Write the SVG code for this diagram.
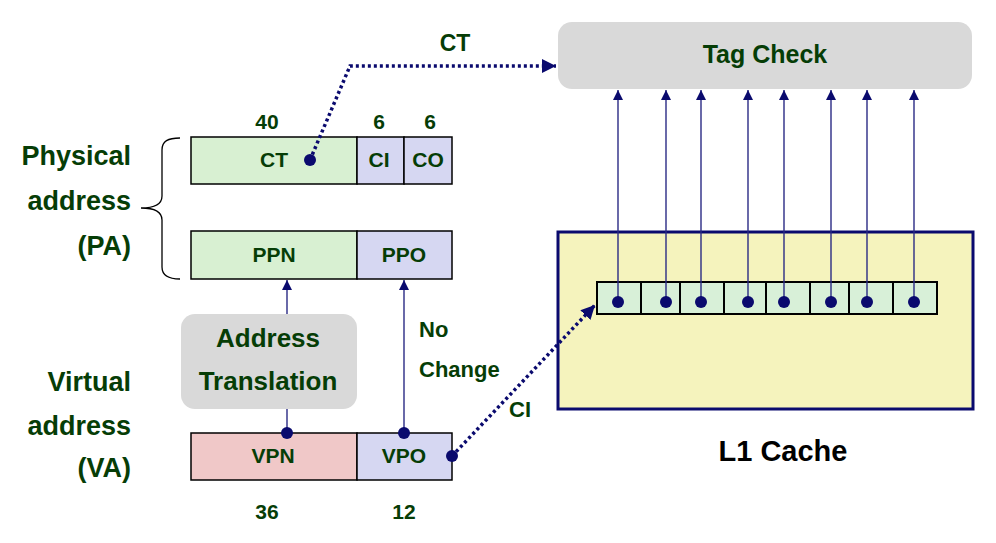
<svg xmlns="http://www.w3.org/2000/svg" width="996" height="543" viewBox="0 0 996 543">
<defs>
<marker id="ah" viewBox="0 0 10 10" refX="10" refY="5" markerWidth="10" markerHeight="10" markerUnits="userSpaceOnUse" orient="auto">
<path d="M0,0 L10,5 L0,10 z" fill="#0a0a6e"/>
</marker>
<marker id="ahd" viewBox="0 0 10 10" refX="10" refY="5" markerWidth="4" markerHeight="4" orient="auto">
<path d="M0,0 L10,5 L0,10 z" fill="#0a0a6e"/>
</marker>
<style>
text{font-family:"Liberation Sans",Arial,sans-serif;font-weight:bold;fill:#063d06}
.lbl{font-size:27px;text-anchor:end}
.fld{font-size:21px;text-anchor:middle}
.box{stroke:#000;stroke-width:1.5}
.g{fill:#d8f0d2}
.p{fill:#d6d7f2}
.r{fill:#f0c8c8}
.cell{fill:#d8f0d8;stroke:#000;stroke-width:2}
.dot{fill:#0a0a6e}
.sol{stroke:#2a2a85;stroke-width:1.4;fill:none;marker-end:url(#ah)}
.dash{stroke:#0a0a6e;stroke-width:3.5;stroke-dasharray:3 3;fill:none;marker-end:url(#ahd)}
</style>
</defs>
<rect width="996" height="543" fill="#fff"/>

<g id="pa-label">
<text class="lbl" x="131" y="165">Physical</text>
<text class="lbl" x="131" y="210">address</text>
<text class="lbl" x="131" y="255">(PA)</text>
<path d="M180,138 C168,138 162,141 162,150 L162,196 C162,204 156,208 141,208 C156,208 162,212 162,220 L162,267 C162,275 168,279 180,279" fill="none" stroke="#000" stroke-width="1.3"/>
</g>

<g id="pa-ct">
<rect class="box g" x="191" y="137" width="166" height="47"/>
<text class="fld" x="274" y="167">CT</text>
<text class="fld" x="267" y="129">40</text>
</g>
<g id="pa-ci">
<rect class="box p" x="357" y="137" width="47" height="47"/>
<text class="fld" x="379" y="167">CI</text>
<text class="fld" x="379" y="129">6</text>
</g>
<g id="pa-co">
<rect class="box p" x="404" y="137" width="48" height="47"/>
<text class="fld" x="428" y="167">CO</text>
<text class="fld" x="430" y="129">6</text>
</g>
<g id="pa-ppn">
<rect class="box g" x="191" y="231" width="166" height="48"/>
<text class="fld" x="274" y="262">PPN</text>
</g>
<g id="pa-ppo">
<rect class="box p" x="357" y="231" width="95" height="48"/>
<text class="fld" x="404" y="262">PPO</text>
</g>

<g id="va-label">
<text class="lbl" x="131" y="391">Virtual</text>
<text class="lbl" x="131" y="435">address</text>
<text class="lbl" x="131" y="477">(VA)</text>
</g>
<g id="va-vpn">
<rect class="box r" x="191" y="433" width="166" height="47"/>
<text class="fld" x="273" y="463">VPN</text>
<text class="fld" x="267" y="519">36</text>
</g>
<g id="va-vpo">
<rect class="box p" x="357" y="433" width="95" height="47"/>
<text class="fld" x="404" y="463">VPO</text>
<text class="fld" x="404" y="519">12</text>
</g>

<g id="l1-cache">
<rect x="558" y="232" width="415" height="177" fill="#f5f3bd" stroke="#0a0a6e" stroke-width="3"/>
<text x="783" y="461" font-size="29" text-anchor="middle" style="fill:#000">L1 Cache</text>
</g>
<g id="cache-line">
<rect class="cell" x="597" y="282" width="44" height="32"/>
<rect class="cell" x="641" y="282" width="39" height="32"/>
<rect class="cell" x="680" y="282" width="44" height="32"/>
<rect class="cell" x="724" y="282" width="42" height="32"/>
<rect class="cell" x="766" y="282" width="44" height="32"/>
<rect class="cell" x="810" y="282" width="39" height="32"/>
<rect class="cell" x="849" y="282" width="44" height="32"/>
<rect class="cell" x="893" y="282" width="44" height="32"/>
</g>

<g id="connectors">
<line class="sol" x1="287" y1="433" x2="287" y2="280"/>
<line class="sol" x1="404" y1="433" x2="404" y2="280"/>
<polyline class="dash" points="310,160 350,66 556,66"/>
<line class="dash" x1="452" y1="456" x2="595" y2="305"/>
<line class="sol" x1="618" y1="302" x2="618" y2="90"/>
<line class="sol" x1="666" y1="302" x2="666" y2="90"/>
<line class="sol" x1="701" y1="302" x2="701" y2="90"/>
<line class="sol" x1="748" y1="302" x2="748" y2="90"/>
<line class="sol" x1="784" y1="302" x2="784" y2="90"/>
<line class="sol" x1="831" y1="302" x2="831" y2="90"/>
<line class="sol" x1="867" y1="302" x2="867" y2="90"/>
<line class="sol" x1="914" y1="302" x2="914" y2="90"/>
<circle class="dot" cx="287" cy="433" r="6"/>
<circle class="dot" cx="404" cy="433" r="6"/>
<circle class="dot" cx="310" cy="160" r="6"/>
<circle class="dot" cx="452" cy="456" r="6"/>
<circle class="dot" cx="618" cy="302" r="6"/>
<circle class="dot" cx="666" cy="302" r="6"/>
<circle class="dot" cx="701" cy="302" r="6"/>
<circle class="dot" cx="748" cy="302" r="6"/>
<circle class="dot" cx="784" cy="302" r="6"/>
<circle class="dot" cx="831" cy="302" r="6"/>
<circle class="dot" cx="867" cy="302" r="6"/>
<circle class="dot" cx="914" cy="302" r="6"/>
<text x="455" y="51" font-size="23" text-anchor="middle">CT</text>
<text x="520" y="417" font-size="22" text-anchor="middle">CI</text>
<text x="419" y="337" font-size="22">No</text>
<text x="419" y="377" font-size="22">Change</text>
</g>

<g id="address-translation">
<rect x="181" y="314" width="176" height="95" rx="14" fill="#d9d9d9"/>
<text x="268" y="347" font-size="26" text-anchor="middle">Address</text>
<text x="268" y="390" font-size="26" text-anchor="middle">Translation</text>
</g>

<g id="tag-check">
<rect x="558" y="22" width="414" height="67" rx="14" fill="#d9d9d9"/>
<text x="765" y="63" font-size="25" text-anchor="middle">Tag Check</text>
</g>
</svg>
